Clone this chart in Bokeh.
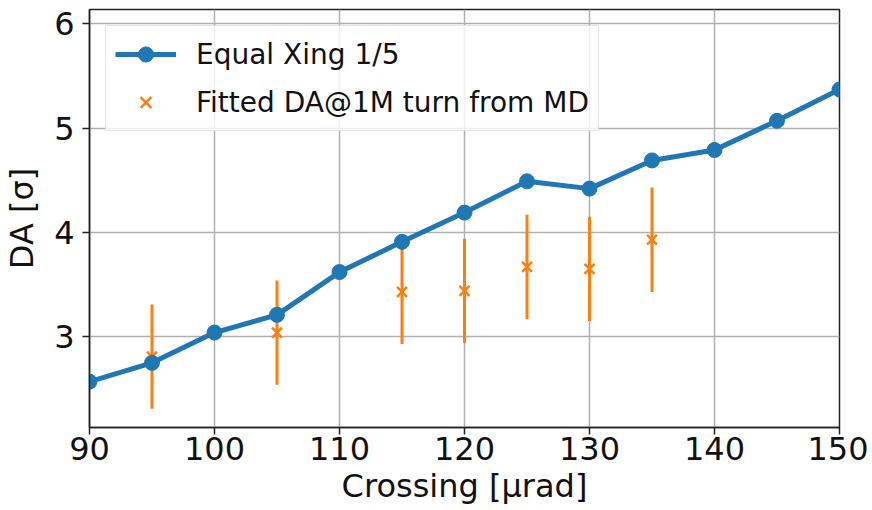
import numpy as np
from bokeh.plotting import figure
from bokeh.models import Range1d, FixedTicker, Legend, LegendItem, ColumnDataSource
from bokeh.embed import file_html
from bokeh.resources import INLINE

# ---- data ----
xing = [90, 95, 100, 105, 110, 115, 120, 125, 130, 135, 140, 145, 150]
da_equal = [2.57, 2.75, 3.04, 3.21, 3.62, 3.91, 4.19, 4.49, 4.42, 4.69, 4.79, 5.07, 5.37]

fit_x = [95, 105, 115, 120, 125, 130, 135]
fit_da = [2.81, 3.04, 3.43, 3.44, 3.67, 3.65, 3.93]
fit_err = [0.50, 0.50, 0.50, 0.50, 0.50, 0.50, 0.50]

x_ticks = [90, 100, 110, 120, 130, 140, 150]
y_ticks = [3, 4, 5, 6]

BLUE = "#1f77b4"
ORANGE = "#ff7f0e"
FONT = "DejaVu Sans"

p = figure(width=868, height=510, output_backend="svg", toolbar_location=None,
           x_range=Range1d(90, 150), y_range=Range1d(2.13, 6.137),
           min_border_left=89, min_border_right=29, min_border_top=9, min_border_bottom=83)
p.background_fill_color = "white"
p.border_fill_color = "white"
p.outline_line_color = "#222222"
p.outline_line_width = 1.5

err_src = ColumnDataSource(dict(
    x=fit_x,
    lo=[y - e for y, e in zip(fit_da, fit_err)],
    hi=[y + e for y, e in zip(fit_da, fit_err)],
    y=fit_da,
))

seg = p.segment(x0="x", y0="lo", x1="x", y1="hi", source=err_src,
                line_color=ORANGE, line_width=3)
xm = p.scatter(x="x", y="y", source=err_src, marker="x", size=14,
               line_color=ORANGE, line_width=2.5)

ln = p.line(xing, da_equal, line_color=BLUE, line_width=5)
cm = p.scatter(xing, da_equal, marker="circle", size=15,
               fill_color=BLUE, line_color=BLUE)

legend = Legend(items=[
    LegendItem(label="Equal Xing 1/5", renderers=[ln, cm]),
    LegendItem(label="Fitted DA@1M turn from MD", renderers=[xm]),
], location="top_left")
legend.margin = 16
legend.padding = 9
legend.spacing = 10
legend.glyph_width = 61
legend.glyph_height = 38
legend.label_standoff = 20
legend.label_text_font = FONT
legend.label_text_font_size = "28px"
legend.label_text_color = "#111111"
legend.border_line_color = "#cccccc"
legend.border_line_width = 1
legend.background_fill_alpha = 0.8
p.add_layout(legend)

for ax in (p.xaxis, p.yaxis):
    ax.major_label_text_font = FONT
    ax.major_label_text_font_size = "32px"
    ax.major_label_text_color = "#111111"
    ax.axis_label_text_font = FONT
    ax.axis_label_text_font_size = "32px"
    ax.axis_label_text_font_style = "normal"
    ax.axis_label_text_color = "#111111"
    ax.axis_line_color = "#222222"
    ax.axis_line_width = 1.5
    ax.major_tick_line_color = "#222222"
    ax.major_tick_line_width = 1.5
    ax.major_tick_out = 7
    ax.major_tick_in = 0
    ax.minor_tick_line_color = None

p.xaxis.major_label_standoff = 2
p.yaxis.major_label_standoff = 8
p.xaxis.ticker = FixedTicker(ticks=x_ticks)
p.yaxis.ticker = FixedTicker(ticks=y_ticks)
p.xaxis.axis_label = "Crossing [μrad]"
p.yaxis.axis_label = "DA [σ]"
p.xaxis.axis_label_standoff = 4
p.yaxis.axis_label_standoff = 10

p.xgrid.ticker = FixedTicker(ticks=x_ticks)
p.ygrid.ticker = FixedTicker(ticks=y_ticks)
for g in (p.xgrid, p.ygrid):
    g.grid_line_color = "#b0b0b0"
    g.grid_line_width = 1.5

open("out.html", "w").write(file_html(p, INLINE))
